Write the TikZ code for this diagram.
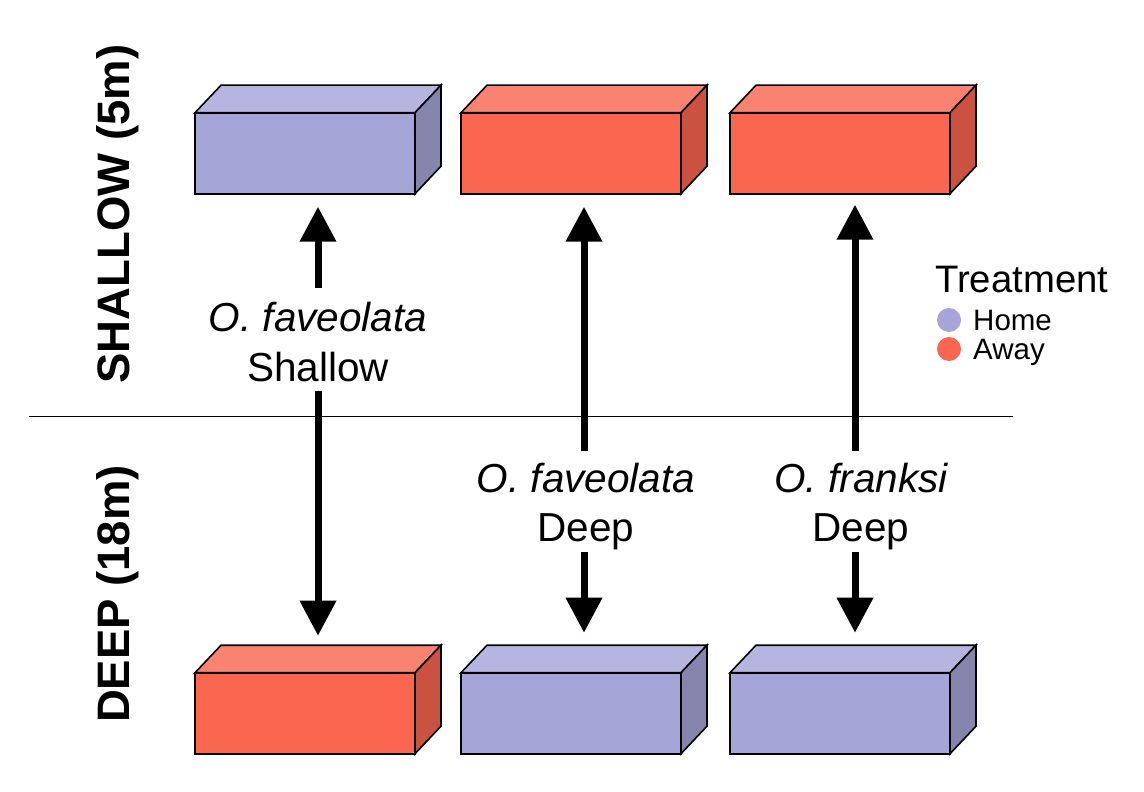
\documentclass[tikz,border=0pt]{standalone}
\usepackage{fontspec}
\setmainfont{Liberation Sans}
\usetikzlibrary{arrows.meta,calc}
\definecolor{homeF}{HTML}{A5A5D8}
\definecolor{homeT}{HTML}{B5B5E0}
\definecolor{homeS}{HTML}{8585AD}
\definecolor{awayF}{HTML}{FA6650}
\definecolor{awayT}{HTML}{FA8270}
\definecolor{awayS}{HTML}{CB5240}
\newcommand\mycuboid[4]{% name, top-left of front face, width, colour prefix
  \node[front,minimum width=#3,fill=#4F,anchor=north west] (#1) at (#2) {};
  \filldraw[face,fill=#4T] (#1.north west) -- ++(26,-27.5) -- ($(#1.north east)+(26,-27.5)$) -- (#1.north east) -- cycle;
  \filldraw[face,fill=#4S] (#1.north east) -- ++(26,-27.5) -- ($(#1.south east)+(26,-27.5)$) -- (#1.south east) -- cycle;
}
\begin{document}
\begin{tikzpicture}[x=1pt,y=-1pt,
  face/.style={draw=black,line width=1.6pt,line join=miter},
  front/.style={face,rectangle,minimum height=81pt,inner sep=0pt,outer sep=0pt},
  arr/.style={line width=7pt,-{Triangle[width=35pt,length=35pt]}},
  lbl/.style={inner sep=0pt,anchor=base,text depth=0pt,font=\fontsize{40.5}{48}\selectfont},
  side/.style={inner sep=0pt,anchor=base,rotate=90,font=\fontsize{45.5}{54}\selectfont\bfseries},
  legtitle/.style={inner sep=0pt,anchor=base west,font=\fontsize{38.3}{44}\selectfont},
  legitem/.style={inner sep=0pt,anchor=base west,font=\fontsize{29.5}{35}\selectfont},
  dot/.style={circle,inner sep=0pt,minimum size=24pt}]
\useasboundingbox (0,0) rectangle (1144,792);
\fill[white] (0,0) rectangle (1144,792);

% divider
\coordinate (divL) at (29,416.7);
\coordinate (divR) at (1013,416.7);
\draw[line width=1.5pt] (divL) -- (divR);

% side labels
\node[side] (lshallow) at (129,214) {SHALLOW (5m)};
\node[side] (ldeep) at (129,594) {DEEP (18m)};

% boxes
\mycuboid{t1}{195,112.7}{220pt}{home}
\mycuboid{t2}{461,112.7}{220pt}{away}
\mycuboid{t3}{730,112.7}{220pt}{away}
\mycuboid{d1}{195,672.7}{220pt}{away}
\mycuboid{d2}{461,672.7}{220pt}{home}
\mycuboid{d3}{730,672.7}{220pt}{home}

% labels
\node[lbl] (a1) at (318,331) {\itshape O. faveolata};
\node[lbl] (b1) at (318,381) {Shallow};
\node[lbl] (a2) at (586,492) {\itshape O. faveolata};
\node[lbl] (b2) at (586,541) {Deep};
\node[lbl] (a3) at (861,492) {\itshape O. franksi};
\node[lbl] (b3) at (861,541) {Deep};

% arrows
\coordinate (x1) at (318,0);
\coordinate (x2) at (584,0);
\coordinate (x3) at (855,0);
\draw[arr] ($(a1.north -| x1)+(0,-13.5)$) -- ($(t1.south -| x1)+(0,13)$);
\draw[arr] ($(b1.south -| x1)+(0,10)$) -- ($(d1.north -| x1)+(0,-37)$);
\draw[arr] ($(a2.north -| x2)+(0,-11)$) -- ($(t2.south -| x2)+(0,13)$);
\draw[arr] ($(b2.south -| x2)+(0,11)$) -- ($(d2.north -| x2)+(0,-40)$);
\draw[arr] ($(a3.north -| x3)+(0,-11)$) -- ($(t3.south -| x3)+(0,11)$);
\draw[arr] ($(b3.south -| x3)+(0,11)$) -- ($(d3.north -| x3)+(0,-40)$);

% legend
\node[legtitle] (legT) at (935,292) {Treatment};
\node[dot,fill=homeF] (dHome) at (949,320) {};
\node[dot,fill=awayF] (dAway) at (949,349) {};
\node[legitem] (tHome) at (973,330.5) {Home};
\node[legitem] (tAway) at (973,359) {Away};
\end{tikzpicture}
\end{document}
